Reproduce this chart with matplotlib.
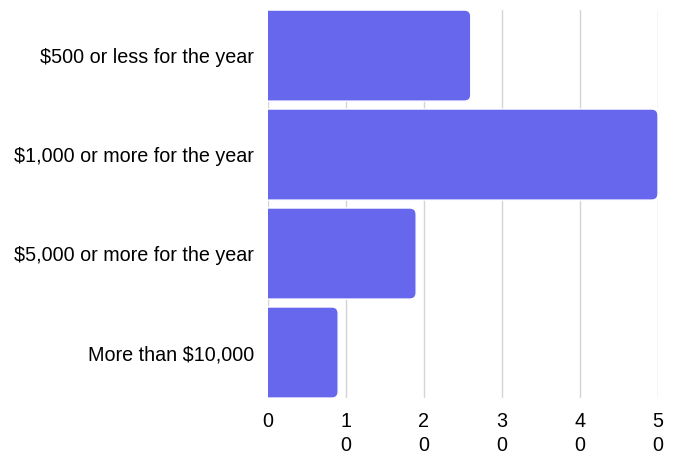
import matplotlib.pyplot as plt
from matplotlib.patches import FancyBboxPatch

plt.rcParams['font.family'] = ['Liberation Sans', 'DejaVu Sans']

categories = ['$500 or less for the year', '$1,000 or more for the year',
              '$5,000 or more for the year', 'More than $10,000']
values = [26, 50, 19, 9]
ticks = [0, 10, 20, 30, 40, 50]
tick_labels = ['0', '1\n0', '2\n0', '3\n0', '4\n0', '5\n0']

fig = plt.figure(figsize=(6.76, 4.57), dpi=100)
ax = fig.add_axes([0.3964, 0.129, 0.577, 0.849])

bar_h = 0.92
ax.set_xlim(0, 50)
ax.set_ylim(len(categories) - 0.5 - (1 - bar_h) / 2, -0.5 + (1 - bar_h) / 2)

# rounded bars, drawn from the left of zero so only the right corners show rounding
rx = 0.8
for i, v in enumerate(values):
    box = FancyBboxPatch((-2, i - bar_h / 2), v + 2, bar_h,
                         boxstyle='round,pad=0,rounding_size=%s' % rx,
                         mutation_aspect=0.08,
                         facecolor='#6767ee', edgecolor='white', linewidth=1.0,
                         zorder=3, clip_on=True)
    ax.add_patch(box)

ax.set_xticks(ticks)
ax.set_xticklabels(tick_labels, fontsize=14.2, linespacing=1.35, va='top')
ax.set_yticks(range(len(categories)))
ax.set_yticklabels(categories, fontsize=14.2)
ax.tick_params(axis='both', length=0)
ax.tick_params(axis='y', pad=10)
ax.tick_params(axis='x', pad=10)

ax.grid(axis='x', color='#d4d4d4', linewidth=1, zorder=0)
ax.set_axisbelow(True)
for s in ax.spines.values():
    s.set_visible(False)

fig.savefig('out.png', dpi=100)
